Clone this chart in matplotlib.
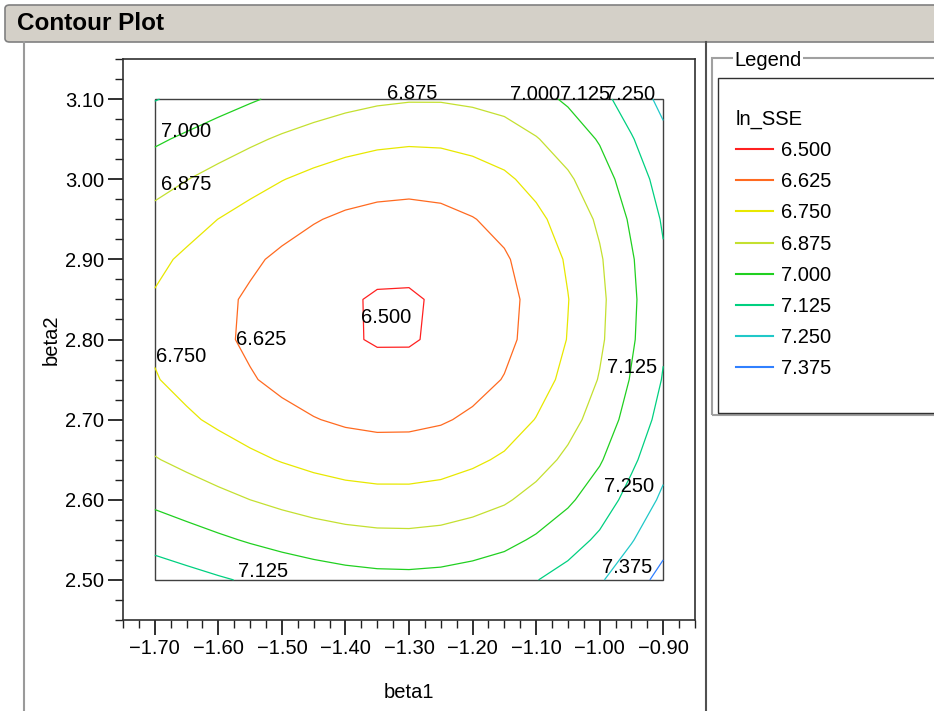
import matplotlib
matplotlib.use("Agg")
import matplotlib.pyplot as plt
from matplotlib.patches import Rectangle, FancyBboxPatch
from matplotlib.lines import Line2D
from matplotlib.ticker import MultipleLocator, FuncFormatter

plt.rcParams["font.family"] = ["Liberation Sans", "DejaVu Sans"]

# grid of the fitted surface
beta1 = [-1.70, -1.65, -1.60, -1.55, -1.50, -1.45, -1.40, -1.35, -1.30,
         -1.25, -1.20, -1.15, -1.10, -1.05, -1.00, -0.95, -0.90]
beta2 = [2.50, 2.55, 2.60, 2.65, 2.70, 2.75, 2.80, 2.85, 2.90, 2.95, 3.00, 3.05, 3.10]

# one row per beta2 value
ln_sse = [
    [7.196, 7.167, 7.138, 7.111, 7.086, 7.064, 7.046, 7.035, 7.032, 7.039, 7.056, 7.080, 7.121, 7.173, 7.237, 7.324, 7.412],
    [7.081, 7.050, 7.019, 6.989, 6.962, 6.939, 6.921, 6.910, 6.908, 6.917, 6.938, 6.967, 7.015, 7.073, 7.146, 7.242, 7.338],
    [6.974, 6.941, 6.907, 6.875, 6.846, 6.821, 6.802, 6.792, 6.791, 6.802, 6.827, 6.861, 6.915, 6.981, 7.062, 7.167, 7.272],
    [6.882, 6.845, 6.809, 6.774, 6.743, 6.716, 6.696, 6.685, 6.686, 6.699, 6.728, 6.767, 6.827, 6.900, 6.988, 7.102, 7.214],
    [6.807, 6.768, 6.729, 6.692, 6.658, 6.630, 6.608, 6.597, 6.598, 6.613, 6.645, 6.688, 6.754, 6.833, 6.927, 7.048, 7.167],
    [6.757, 6.715, 6.674, 6.634, 6.598, 6.568, 6.545, 6.533, 6.534, 6.550, 6.584, 6.630, 6.699, 6.783, 6.882, 7.009, 7.132],
    [6.734, 6.690, 6.647, 6.606, 6.568, 6.535, 6.511, 6.492, 6.492, 6.515, 6.550, 6.596, 6.668, 6.754, 6.855, 6.985, 7.111],
    [6.740, 6.696, 6.652, 6.609, 6.570, 6.536, 6.511, 6.491, 6.490, 6.511, 6.544, 6.590, 6.661, 6.747, 6.848, 6.978, 7.105],
    [6.776, 6.731, 6.687, 6.644, 6.604, 6.570, 6.543, 6.527, 6.524, 6.538, 6.569, 6.612, 6.680, 6.763, 6.862, 6.989, 7.113],
    [6.837, 6.793, 6.749, 6.707, 6.667, 6.633, 6.605, 6.588, 6.583, 6.593, 6.620, 6.659, 6.723, 6.801, 6.894, 7.017, 7.137],
    [6.920, 6.878, 6.835, 6.793, 6.754, 6.720, 6.692, 6.674, 6.666, 6.673, 6.696, 6.730, 6.787, 6.858, 6.945, 7.060, 7.173],
    [7.020, 6.979, 6.937, 6.897, 6.859, 6.826, 6.798, 6.778, 6.769, 6.772, 6.790, 6.818, 6.868, 6.931, 7.010, 7.116, 7.222],
    [7.131, 7.091, 7.052, 7.013, 6.976, 6.944, 6.916, 6.895, 6.884, 6.884, 6.897, 6.919, 6.962, 7.017, 7.087, 7.184, 7.282],
]

levels = [6.500, 6.625, 6.750, 6.875, 7.000, 7.125, 7.250, 7.375]
level_colors = ["#ff2020", "#ff6a20", "#e8e800", "#c4e030",
                "#20d020", "#00d080", "#20c8c8", "#3080ff"]

# where the level numbers sit on the plot (beta1, beta2)
label_text = ["6.500", "6.625", "6.750", "6.875", "7.000", "6.875", "7.000",
              "7.125", "7.250", "7.125", "7.250", "7.375", "7.125"]
label_b1 = [-1.336, -1.533, -1.659, -1.651, -1.651, -1.295, -1.102,
            -1.023, -0.952, -0.949, -0.954, -0.957, -1.530]
label_b2 = [2.8275, 2.800, 2.779, 2.994, 3.060, 3.1075, 3.106,
            3.106, 3.106, 2.765, 2.616, 2.516, 2.510]

W, H = 934, 711
FS = 14.5


def fx(px):
    return px / W


def fy(py):
    return 1 - py / H


fig = plt.figure(figsize=(W / 100, H / 100), dpi=100)

# title bar
fig.patches.append(FancyBboxPatch((fx(5), fy(42)), fx(960) - fx(5), fy(5) - fy(42),
                                  boxstyle="round,pad=0,rounding_size=0.005",
                                  transform=fig.transFigure, fc="#d4d0c8", ec="#808080", lw=1.2))
fig.text(fx(17), fy(24), "Contour Plot", fontsize=17.5, fontweight="bold", ha="left", va="center")

# panel separators
fig.add_artist(Line2D([fx(24), fx(24)], [fy(42), 0], color="#9a9a9a", lw=1.5))
fig.add_artist(Line2D([fx(706), fx(706)], [fy(42), 0], color="#505050", lw=1.5))

ax = fig.add_axes([fx(123), fy(620), fx(695) - fx(123), fy(59) - fy(620)])
ax.contour(beta1, beta2, ln_sse, levels=levels, colors=level_colors, linewidths=0.9)
ax.add_patch(Rectangle((beta1[0], beta2[0]), beta1[-1] - beta1[0], beta2[-1] - beta2[0],
                       fill=False, ec="#404040", lw=1.0))
for t, x, y in zip(label_text, label_b1, label_b2):
    ax.text(x, y, t, fontsize=FS, ha="center", va="center")

ax.set_xlim(-1.75, -0.85)
ax.set_ylim(2.45, 3.15)
ax.xaxis.set_major_locator(MultipleLocator(0.1))
ax.yaxis.set_major_locator(MultipleLocator(0.1))
ax.xaxis.set_minor_locator(MultipleLocator(0.025))
ax.yaxis.set_minor_locator(MultipleLocator(0.025))
fmt = FuncFormatter(lambda v, pos: f"{v:.2f}".replace("-", "\u2212"))
ax.xaxis.set_major_formatter(fmt)
ax.yaxis.set_major_formatter(fmt)
ax.tick_params(which="major", direction="out", length=10.5, width=1.3, labelsize=FS, pad=3, color="#202020")
ax.tick_params(which="minor", direction="out", length=6, width=1.0, color="#202020")
for s in ax.spines.values():
    s.set_color("#303030")
    s.set_linewidth(1.2)

ax.set_xlabel("beta1", fontsize=FS)
ax.set_ylabel("beta2", fontsize=FS)
ax.xaxis.set_label_coords(0.5, (620 - 683) / 561)
ax.yaxis.set_label_coords((61 - 123) / 572, 0.5)

# legend group box
fig.patches.append(Rectangle((fx(712), fy(415)), fx(960) - fx(712), fy(58) - fy(415),
                             transform=fig.transFigure, fill=False, ec="#a0a0a0", lw=1.5))
fig.text(fx(734), fy(60), "Legend", fontsize=FS, ha="left", va="center",
         bbox=dict(fc="white", ec="none", pad=1))
fig.patches.append(Rectangle((fx(718), fy(413)), fx(960) - fx(718), fy(78) - fy(413),
                             transform=fig.transFigure, fill=False, ec="#303030", lw=1.0))

handles = [Line2D([], [], color=c, lw=1.5) for c in level_colors]
fig.legend(handles, [f"{v:.3f}" for v in levels], title="ln_SSE", loc="upper left",
           bbox_to_anchor=(fx(736), fy(110)), frameon=False, fontsize=FS, title_fontsize=FS,
           alignment="left", handlelength=1.85, handletextpad=0.4, labelspacing=0.60,
           borderpad=0, borderaxespad=0)

fig.savefig("out.png", dpi=100)
